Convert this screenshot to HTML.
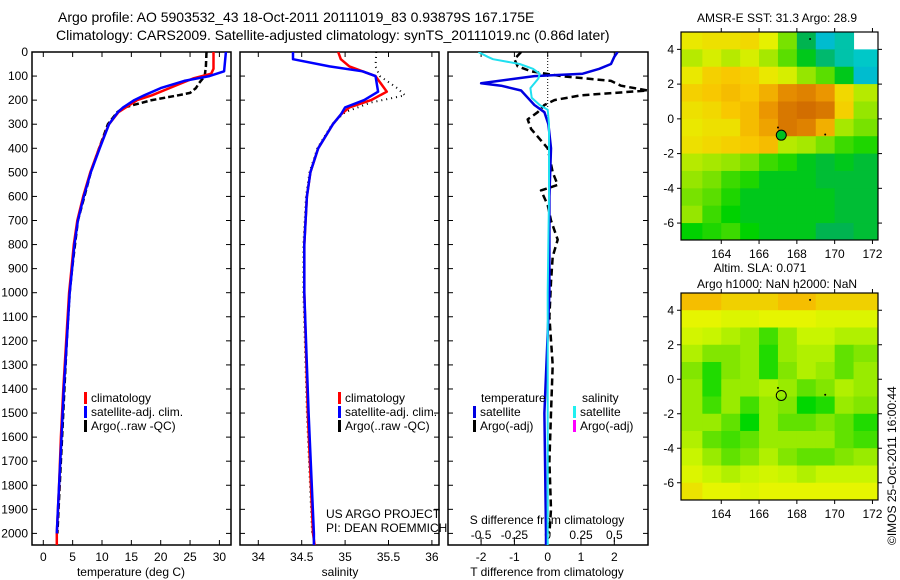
<!DOCTYPE html>
<html><head><meta charset="utf-8">
<style>
html,body{margin:0;padding:0;background:#fff;}
svg{display:block;font-family:"Liberation Sans",Arial,sans-serif;}
</style></head>
<body>
<svg id="c" width="900" height="580" xmlns="http://www.w3.org/2000/svg">
<text x="58" y="22" font-size="14">Argo profile: AO 5903532_43 18-Oct-2011 20111019_83 0.93879S 167.175E</text>
<text x="56" y="40" font-size="14">Climatology: CARS2009. Satellite-adjusted climatology: synTS_20111019.nc (0.86d later)</text>
<text x="131" y="576" font-size="12" text-anchor="middle">temperature (deg C)</text>
<text x="340" y="576" font-size="12" text-anchor="middle">salinity</text>
<text x="547" y="576" font-size="12" text-anchor="middle">T difference from climatology</text>
<text x="547" y="524" font-size="12" text-anchor="middle">S difference from climatology</text>
<text x="326" y="518" font-size="12">US ARGO PROJECT</text>
<text x="326" y="532" font-size="12">PI: DEAN ROEMMICH</text>
<text x="777" y="22" font-size="12" text-anchor="middle">AMSR-E SST: 31.3 Argo: 28.9</text>
<text x="760" y="272" font-size="12" text-anchor="middle">Altim. SLA: 0.071</text>
<text x="777" y="288" font-size="12" text-anchor="middle">Argo h1000: NaN h2000: NaN</text>
<text transform="translate(896,545) rotate(-90)" font-size="12">©IMOS 25-Oct-2011 16:00:44</text>
</svg>
<script>
// ---------- data ----------
const depthTicks=[0,100,200,300,400,500,600,700,800,900,1000,1100,1200,1300,1400,1500,1600,1700,1800,1900,2000];
const tempTicks=[0,5,10,15,20,25,30];
const salTicks=[34,34.5,35,35.5,36];
const tdiffTicks=[-2,-1,0,1,2];
const sdiffTicks=[-0.5,-0.25,0,0.25,0.5];
const tDepth=[0,70,90,110,150,180,200,250,300,400,500,600,700,800,900,1000,1200,1400,1600,1800,2000,2050];
const tClim=[29.0,29.0,28.6,25.5,21.5,18.5,16.0,12.8,11.2,9.5,8.0,6.8,5.8,5.2,4.8,4.4,3.9,3.4,3.0,2.7,2.3,2.3];
const tSatDepth=[0,80,100,120,150,180,200,230,250,300,400,500,600,700,800,900,1000,1200,1400,1600,1800,2000];
const tSat=[31.1,30.8,28.3,24.0,20.0,17.2,15.5,13.6,12.7,11.2,9.6,8.1,6.9,5.9,5.3,4.9,4.5,4.0,3.5,3.1,2.7,2.3];
const tArgoDepth=[0,60,100,130,150,170,180,200,230,250,300,400,500,600,700,800,900,1000,1200,1400,1600,1800,2000];
const tArgo=[27.8,27.7,27.5,26.5,26.0,25.0,23.0,18.5,13.8,12.6,11.0,9.5,8.1,7.0,5.9,5.4,4.9,4.5,4.0,3.6,3.2,2.8,2.4];
const sDepth=[0,30,60,80,100,165,200,230,260,300,400,500,600,800,1000,1500,2000,2050];
const sClim=[34.92,34.95,35.05,35.2,35.35,35.48,35.3,35.05,34.95,34.86,34.69,34.6,34.56,34.53,34.53,34.57,34.63,34.65];
const sSat=[34.4,34.4,34.82,35.2,35.35,35.38,35.22,35.0,34.95,34.86,34.69,34.6,34.56,34.53,34.53,34.58,34.64,34.64];
const sArgoDepth=[0,60,100,150,180,210,250,300,400,500,600,800,1000,1500,2000];
const sArgo=[35.36,35.35,35.4,35.6,35.69,35.3,35.0,34.85,34.68,34.59,34.55,34.52,34.52,34.56,34.62];
const dtSatDepth=[0,20,50,70,90,100,130,140,160,190,220,250,300,400,600,800,1000,1500,2000,2050];
const dtSat=[2.1,2.0,1.9,1.55,1.05,-0.4,-2.0,-1.4,-0.8,-0.6,-0.4,-0.1,0.02,0.1,0.05,0.05,0.05,-0.1,-0.05,-0.05];
const dsSatDepth=[0,20,30,50,70,90,110,150,190,220,240,300,600,1000,1500,2050];
const dsSat=[-0.52,-0.45,-0.41,-0.21,-0.11,-0.06,-0.07,-0.13,-0.12,-0.06,0.0,0.01,0.01,0.0,0.0,0.0];
const dtArgoDepth=[0,30,60,80,100,120,140,160,180,200,220,250,280,320,400,500,552,575,636,700,780,850,956,1100,1300,1500,1700,1900,2000];
const dtArgo=[-0.8,-1.0,-0.9,-0.5,0.4,1.9,2.2,3.0,1.0,0.2,-0.1,-0.3,-0.6,-0.5,0.0,0.15,0.3,-0.2,0.0,0.1,0.3,0.15,0.1,0.05,0.15,0.1,0.05,0.1,0.05];
const mapLons=[162,163,164,165,166,167,168,169,170,171];
const mapLats=[5,4,3,2,1,0,-1,-2,-3,-4,-5,-6];
const sstGrid=[
[30.2,30.3,30.3,30.4,30.1,29.5,28.8,28.3,28.5,null],
[29.8,30.0,29.8,30.0,29.7,29.4,29.0,28.7,28.5,28.4],
[30.2,30.5,30.6,30.5,30.2,30.0,29.6,29.4,29.0,28.3],
[30.5,30.6,30.7,30.6,30.8,31.1,31.2,31.0,30.4,29.8],
[30.3,30.4,30.6,30.7,31.0,31.3,31.4,31.3,30.5,29.6],
[30.2,30.3,30.3,30.7,30.9,31.3,31.2,30.8,29.7,29.5],
[30.3,30.4,30.5,30.6,30.7,29.8,29.7,29.5,29.3,29.2],
[29.8,29.7,29.6,29.5,29.3,29.2,29.0,28.9,29.0,28.9],
[29.6,29.5,29.3,29.2,29.0,29.0,29.0,28.9,28.9,28.9],
[29.5,29.4,29.2,29.0,29.0,29.0,29.0,29.0,28.9,28.9],
[29.6,29.3,29.1,29.0,29.0,29.0,29.0,29.0,28.9,28.9],
[29.1,29.2,29.3,29.1,29.0,29.0,29.0,28.8,28.8,28.9]];
const slaGrid=[
[.85,.85,.8,.8,.8,.85,.85,.8,.8,.8],
[.7,.7,.65,.65,.7,.7,.7,.65,.65,.65],
[.6,.55,.5,.45,.3,.45,.55,.55,.5,.5],
[.5,.4,.4,.45,.25,.45,.5,.5,.35,.4],
[.4,.25,.4,.45,.25,.4,.5,.45,.35,.45],
[.45,.25,.45,.45,.5,.45,.35,.4,.5,.45],
[.45,.3,.45,.3,.45,.4,.2,.25,.45,.4],
[.45,.45,.35,.2,.45,.35,.35,.4,.35,.25],
[.5,.35,.3,.35,.45,.45,.45,.45,.35,.3],
[.55,.45,.35,.4,.5,.4,.35,.35,.4,.45],
[.65,.55,.5,.55,.6,.55,.5,.55,.55,.55],
[.75,.7,.7,.65,.7,.7,.7,.7,.7,.7]];
const lonTicks=[164,166,168,170,172];
const latTicks=[4,2,0,-2,-4,-6];
const argoLon=167.175, argoLat=-0.94;

// ---------- helpers ----------
const svg=document.getElementById('c');
const NS='http://www.w3.org/2000/svg';
function mk(tag,attrs,parent){const e=document.createElementNS(NS,tag);for(const k in attrs)e.setAttribute(k,attrs[k]);(parent||svg).appendChild(e);return e;}
const PT=52,PB=545;
const yD=d=>PT+d*0.2407;
const P1={l:32,r:231,x:v=>43.3+v*5.87};
const P2={l:240,r:439,x:v=>258.3+(v-34)*86.8};
const P3={l:448,r:648,x:v=>547.7+v*33.3,xs:v=>547.7+v*133.3};

function frame(P,name){
  const r=mk('rect',{x:P.l,y:PT,width:P.r-P.l,height:PB-PT,fill:'none',stroke:'#000','stroke-width':1.5});
  
  
  depthTicks.forEach(d=>{
    const y=yD(d);
    const t1=mk('line',{x1:P.l,x2:P.l+5,y1:y,y2:y,stroke:'#000'});
    
    
    const t2=mk('line',{x1:P.r-5,x2:P.r,y1:y,y2:y,stroke:'#000'});
    
    
  });
}
function xticks(P,ticks,fn,labelY){
  ticks.forEach(v=>{
    const x=fn(v);
    const a=mk('line',{x1:x,x2:x,y1:PB,y2:PB-5,stroke:'#000'});
    
    
    const b=mk('line',{x1:x,x2:x,y1:PT,y2:PT+5,stroke:'#000'});
    
    
    const t=mk('text',{x:x,y:labelY,'font-size':12,'text-anchor':'middle'});
    t.textContent=String(v);
    
    
  });
}
function line(depths,vals,fx,color,w,dash,name,clip){
  const pts=depths.map((d,i)=>fx(vals[i]).toFixed(1)+','+yD(d).toFixed(1)).join(' ');
  const a={points:pts,fill:'none',stroke:color,'stroke-width':w,'stroke-linejoin':'round'};
  if(dash)a['stroke-dasharray']=dash;
  if(clip)a['clip-path']='url(#'+clip+')';
  const p=mk('polyline',a);
  
  
}
const defs=mk('defs',{});
[['cp1',P1],['cp2',P2],['cp3',P3]].forEach(([id,P])=>{const c=mk('clipPath',{id},defs);mk('rect',{x:P.l,y:PT,width:P.r-P.l,height:PB-PT},c);});

depthTicks.forEach(d=>{
  const t=mk('text',{x:28,y:yD(d)+4,'font-size':12,'text-anchor':'end'});
  t.textContent=String(d);
  
  
});

frame(P1,'temperature-panel');
xticks(P1,tempTicks,P1.x,561);
line(tArgoDepth,tArgo,P1.x,'#000',2.5,'6,3','temp-argo-line','cp1');
line(tDepth,tClim,P1.x,'#f00',2.5,null,'temp-climatology-line','cp1');
line(tSatDepth,tSat,P1.x,'#00f',2.5,null,'temp-satellite-line','cp1');

frame(P2,'salinity-panel');
xticks(P2,salTicks,P2.x,561);
line(sArgoDepth,sArgo,P2.x,'#000',2,'1,4','sal-argo-line','cp2');
line(sDepth,sClim,P2.x,'#f00',2.5,null,'sal-climatology-line','cp2');
line(sDepth,sSat,P2.x,'#00f',2.5,null,'sal-satellite-line','cp2');

frame(P3,'difference-panel');
xticks(P3,tdiffTicks,P3.x,561);
sdiffTicks.forEach(v=>{
  const x=P3.xs(v);
  const a=mk('line',{x1:x,x2:x,y1:PB-8,y2:PB-3,stroke:'#000'});
  
  
  const t=mk('text',{x:x,y:539,'font-size':12,'text-anchor':'middle'});
  t.textContent=String(v);
  
  
});
const zl=mk('line',{x1:P3.x(0),x2:P3.x(0),y1:PT,y2:yD(300),stroke:'#000','stroke-dasharray':'1,2'});


line(dtArgoDepth,dtArgo,P3.x,'#000',2.5,'7,4','tdiff-argo-line','cp3');
line(dtSatDepth,dtSat,P3.x,'#0000e0',2.5,null,'tdiff-satellite-line','cp3');
line(dsSatDepth,dsSat,P3.xs,'#20e0f0',2,null,'sdiff-satellite-line','cp3');

function legend(x,y,color,label,name){
  const g=mk('g',{});
  
  
  mk('rect',{x:x,y:y-10,width:3,height:12,fill:color},g);
  const t=mk('text',{x:x+7,y:y,'font-size':12},g);t.textContent=label;
}
legend(84,402,'#f00','climatology','legend-climatology');
legend(84,416,'#00f','satellite-adj. clim.','legend-satellite');
legend(84,430,'#000','Argo(..raw -QC)','legend-argo');
legend(338,402,'#f00','climatology','legend-sal-climatology');
legend(338,416,'#00f','satellite-adj. clim.','legend-sal-satellite');
legend(338,430,'#000','Argo(..raw -QC)','legend-sal-argo');
const lt=mk('text',{x:481,y:402,'font-size':12});lt.textContent='temperature';


const ls=mk('text',{x:582,y:402,'font-size':12});ls.textContent='salinity';


legend(473,416,'#0000e0','satellite','legend-tdiff-satellite');
legend(473,430,'#000','Argo(-adj)','legend-tdiff-argo');
legend(573,416,'#20f0f0','satellite','legend-sdiff-satellite');
legend(573,430,'#f0f','Argo(-adj)','legend-sdiff-argo');

// ---------- maps ----------
function lerpCol(stops,v){
  const rgb=a=>'rgb('+a.join(',')+')';
  if(v<=stops[0][0])return rgb(stops[0][1]);
  for(let i=1;i<stops.length;i++){if(v<=stops[i][0]){const [a,ca]=stops[i-1],[b,cb]=stops[i];const f=(v-a)/(b-a);return rgb(ca.map((c,k)=>Math.round(c+(cb[k]-c)*f)));}}
  return rgb(stops[stops.length-1][1]);
}
const sstStops=[[28.0,[0,150,230]],[28.4,[0,200,200]],[28.8,[0,180,80]],[29.1,[0,210,0]],[29.6,[150,230,0]],[30.1,[230,240,0]],[30.6,[248,200,0]],[31.0,[235,150,0]],[31.4,[210,110,0]]];
const slaStops=[[0.2,[0,215,0]],[0.4,[130,230,0]],[0.55,[200,245,0]],[0.7,[230,245,0]],[0.85,[245,190,0]]];
function map(M,grid,stops,name,filled){
  const lx=v=>M.l+(v-161.87)*M.sx, ly=v=>M.t+(5-v)*M.sy;
  const g=mk('g',{'clip-path':'url(#'+M.id+')'});
  
  
  const c=mk('clipPath',{id:M.id},defs);mk('rect',{x:M.l,y:M.t,width:M.r-M.l,height:M.b-M.t},c);
  mapLats.forEach((lat,i)=>{mapLons.forEach((lon,j)=>{
    const v=grid[i][j]; if(v===null)return;
    const x0=j===0?M.l:lx(lon), x1=j===mapLons.length-1?M.r:lx(lon+1);
    const cell=mk('rect',{x:x0,y:ly(lat),width:x1-x0+0.5,height:M.sy+0.5,fill:lerpCol(stops,v)},g);
    
    
  });});
  const fr=mk('rect',{x:M.l,y:M.t,width:M.r-M.l,height:M.b-M.t,fill:'none',stroke:'#000','stroke-width':1.2});
  
  
  latTicks.forEach(v=>{const y=ly(v);
    const a=mk('line',{x1:M.l-4,x2:M.l,y1:y,y2:y,stroke:'#000'});
    
    
    const b=mk('line',{x1:M.r,x2:M.r+4,y1:y,y2:y,stroke:'#000'});
    
    
    const t=mk('text',{x:674,y:y+4,'font-size':12,'text-anchor':'end'});t.textContent=String(v);
    
    
  });
  lonTicks.forEach(v=>{const x=lx(v);
    const a=mk('line',{x1:x,x2:x,y1:M.b,y2:M.b+4,stroke:'#000'});
    
    
    const b=mk('line',{x1:x,x2:x,y1:M.t-4,y2:M.t,stroke:'#000'});
    
    
    const t=mk('text',{x:x,y:M.b+18,'font-size':12,'text-anchor':'middle'});t.textContent=String(v);
    
    
  });
  const m=mk('circle',{cx:lx(argoLon),cy:ly(argoLat),r:5,fill:filled?'#00c020':'none',stroke:'#000','stroke-width':1});
  
  
  [[168.7,4.6],[169.5,-0.9],[167.0,-0.5]].forEach(([a,b])=>{
    const d=mk('circle',{cx:lx(a),cy:ly(b),r:1,fill:'#000'});
    
    
  });
}
map({id:'cm1',l:681,r:878,t:32,b:240,sx:18.9,sy:17.37},sstGrid,sstStops,'sst-map',true);
map({id:'cm2',l:681,r:878,t:293,b:500,sx:18.9,sy:17.25},slaGrid,slaStops,'sla-map',false);
</script>
</body></html>
